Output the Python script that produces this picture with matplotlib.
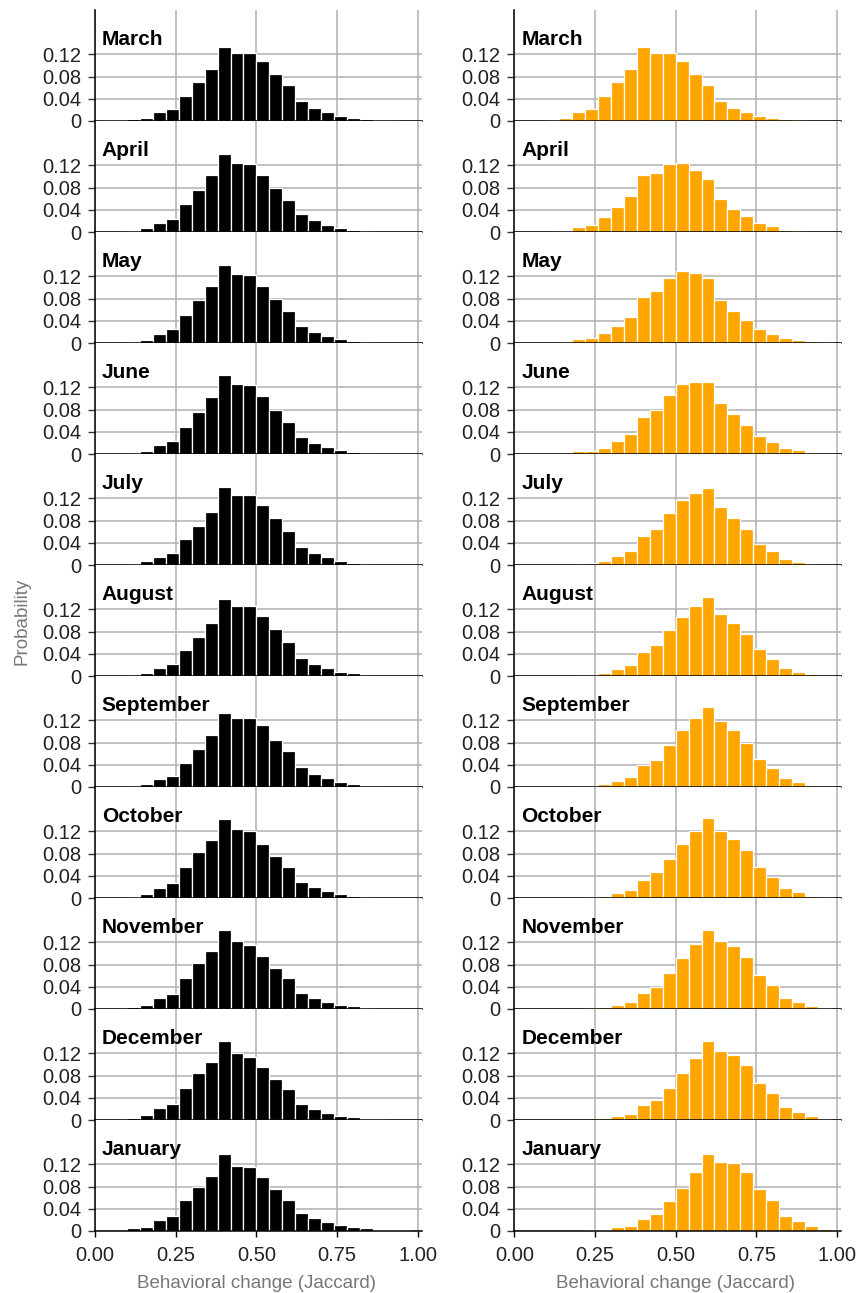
import numpy as np
import matplotlib
matplotlib.use("Agg")
import matplotlib.pyplot as plt

plt.rcParams['font.family'] = ['Liberation Sans', 'DejaVu Sans']

# bin centres (Jaccard), bin width 0.04
bins = [0.04, 0.08, 0.12, 0.16, 0.20, 0.24, 0.28, 0.32, 0.36, 0.40, 0.44, 0.48, 0.52,
        0.56, 0.60, 0.64, 0.68, 0.72, 0.76, 0.80, 0.84, 0.88, 0.92, 0.96, 1.00]

months = ["March", "April", "May", "June", "July", "August", "September",
          "October", "November", "December", "January"]

# left column (black)
mar_l = [0.001, 0.001, 0.003, 0.006, 0.0155, 0.022, 0.045, 0.070, 0.094, 0.133, 0.122, 0.122, 0.108,
         0.085, 0.065, 0.036, 0.024, 0.017, 0.0095, 0.006, 0.003, 0.001, 0.001, 0.0008, 0.0005]
apr_l = [0.0005, 0.0005, 0.0024, 0.0066, 0.017, 0.024, 0.051, 0.0765, 0.102, 0.140, 0.125, 0.122, 0.1035,
         0.080, 0.058, 0.033, 0.022, 0.013, 0.008, 0.004, 0.0024, 0.0006, 0.0005, 0.0004, 0.0003]
may_l = [0.0005, 0.0005, 0.0024, 0.006, 0.017, 0.026, 0.051, 0.078, 0.102, 0.140, 0.125, 0.122, 0.1035,
         0.080, 0.058, 0.031, 0.0205, 0.013, 0.008, 0.004, 0.0024, 0.0005, 0.0005, 0.0005, 0.0005]
jun_l = [0.0004, 0.0004, 0.0024, 0.006, 0.017, 0.024, 0.049, 0.0765, 0.102, 0.1415, 0.127, 0.125, 0.105,
         0.080, 0.058, 0.031, 0.0205, 0.013, 0.008, 0.004, 0.0024, 0.0005, 0.0005, 0.0005, 0.0005]
jul_l = [0.0004, 0.0004, 0.0024, 0.0066, 0.015, 0.022, 0.046, 0.071, 0.096, 0.140, 0.127, 0.127, 0.109,
         0.084, 0.062, 0.033, 0.022, 0.015, 0.008, 0.004, 0.0024, 0.0005, 0.0005, 0.0005, 0.0005]
aug_l = [0.0005, 0.0005, 0.0024, 0.006, 0.015, 0.022, 0.046, 0.071, 0.096, 0.138, 0.127, 0.127, 0.109,
         0.084, 0.062, 0.033, 0.022, 0.015, 0.008, 0.006, 0.0024, 0.0005, 0.0005, 0.0005, 0.0005]
sep_l = [0.0005, 0.0005, 0.0024, 0.006, 0.015, 0.0205, 0.044, 0.069, 0.093, 0.134, 0.125, 0.125, 0.111,
         0.0855, 0.0656, 0.0367, 0.024, 0.017, 0.0096, 0.006, 0.0024, 0.0024, 0.0005, 0.0005, 0.0005]
oct_l = [0.0005, 0.0005, 0.0024, 0.0078, 0.0187, 0.0277, 0.055, 0.082, 0.105, 0.143, 0.125, 0.120, 0.098,
         0.075, 0.055, 0.0295, 0.0205, 0.013, 0.008, 0.004, 0.0024, 0.0005, 0.0005, 0.0005, 0.0005]
nov_l = [0.0005, 0.0005, 0.0036, 0.0078, 0.0205, 0.0277, 0.0566, 0.0837, 0.105, 0.143, 0.123, 0.116, 0.096,
         0.073, 0.055, 0.0295, 0.0205, 0.013, 0.008, 0.006, 0.0024, 0.0005, 0.0005, 0.0005, 0.0005]
dec_l = [0.0005, 0.0005, 0.0042, 0.0096, 0.022, 0.0295, 0.058, 0.084, 0.105, 0.1415, 0.120, 0.114, 0.096,
         0.073, 0.055, 0.0295, 0.0205, 0.013, 0.008, 0.006, 0.0024, 0.0024, 0.0005, 0.0005, 0.0005]
jan_l = [0.0006, 0.0006, 0.0048, 0.0078, 0.0205, 0.0277, 0.055, 0.080, 0.100, 0.138, 0.118, 0.1146, 0.0965,
         0.075, 0.0567, 0.033, 0.024, 0.017, 0.0115, 0.0078, 0.0048, 0.0024, 0.0024, 0.0012, 0.0006]

# right column (orange)
mar_r = [0.0008, 0.0008, 0.0024, 0.006, 0.0155, 0.022, 0.045, 0.070, 0.094, 0.133, 0.122, 0.122, 0.108,
         0.085, 0.065, 0.036, 0.024, 0.017, 0.0095, 0.006, 0.003, 0.001, 0.0008, 0.0008, 0.0008]
apr_r = [0.0005, 0.0005, 0.0005, 0.0024, 0.0084, 0.012, 0.0265, 0.0445, 0.064, 0.1035, 0.107, 0.123, 0.125,
         0.1126, 0.096, 0.060, 0.042, 0.0295, 0.017, 0.0114, 0.0042, 0.0024, 0.0005, 0.0005, 0.0005]
may_r = [0.0005, 0.0005, 0.0005, 0.0024, 0.0066, 0.0084, 0.0175, 0.030, 0.046, 0.0825, 0.093, 0.117, 0.129,
         0.126, 0.117, 0.077, 0.057, 0.041, 0.025, 0.0157, 0.0084, 0.0048, 0.003, 0.0012, 0.0006]
jun_r = [0.0005, 0.0005, 0.0005, 0.0008, 0.0048, 0.0048, 0.0114, 0.023, 0.0355, 0.066, 0.079, 0.106, 0.126,
         0.1306, 0.129, 0.0915, 0.0716, 0.052, 0.032, 0.021, 0.010, 0.0066, 0.0024, 0.0006, 0.0005]
jul_r = [0.0004, 0.0004, 0.0004, 0.0004, 0.0024, 0.0042, 0.0078, 0.017, 0.026, 0.053, 0.0656, 0.093, 0.118,
         0.1306, 0.138, 0.105, 0.0855, 0.064, 0.0385, 0.026, 0.0114, 0.006, 0.0024, 0.0006, 0.0004]
aug_r = [0.0005, 0.0005, 0.0005, 0.0005, 0.0018, 0.0018, 0.006, 0.0132, 0.0205, 0.044, 0.055, 0.082, 0.107,
         0.127, 0.143, 0.1126, 0.096, 0.075, 0.048, 0.031, 0.015, 0.008, 0.0042, 0.0006, 0.0005]
sep_r = [0.0004, 0.0004, 0.0004, 0.0004, 0.0018, 0.0018, 0.006, 0.0114, 0.0187, 0.039, 0.049, 0.0765, 0.1035,
         0.125, 0.145, 0.119, 0.102, 0.080, 0.051, 0.035, 0.017, 0.0096, 0.0042, 0.0006, 0.0004]
oct_r = [0.0004, 0.0004, 0.0004, 0.0004, 0.0006, 0.0024, 0.0042, 0.0096, 0.015, 0.033, 0.046, 0.071, 0.098,
         0.1216, 0.145, 0.1216, 0.107, 0.087, 0.0566, 0.0385, 0.0187, 0.0114, 0.0042, 0.0024, 0.0006]
nov_r = [0.0004, 0.0004, 0.0004, 0.0004, 0.0004, 0.0024, 0.0042, 0.0078, 0.013, 0.0295, 0.040, 0.064, 0.091,
         0.118, 0.143, 0.123, 0.114, 0.0945, 0.062, 0.044, 0.0205, 0.013, 0.006, 0.0024, 0.0006]
dec_r = [0.0004, 0.0004, 0.0004, 0.0004, 0.0004, 0.0004, 0.0042, 0.0078, 0.0114, 0.0277, 0.0367, 0.058, 0.0855,
         0.1126, 0.143, 0.125, 0.118, 0.100, 0.067, 0.048, 0.024, 0.015, 0.0078, 0.0024, 0.0006]
jan_r = [0.0006, 0.0006, 0.0006, 0.0006, 0.0006, 0.0012, 0.0024, 0.0066, 0.0096, 0.0223, 0.031, 0.054, 0.077,
         0.1055, 0.138, 0.125, 0.122, 0.107, 0.075, 0.055, 0.0277, 0.0187, 0.0096, 0.0042, 0.0012]

left = [mar_l, apr_l, may_l, jun_l, jul_l, aug_l, sep_l, oct_l, nov_l, dec_l, jan_l]
right = [mar_r, apr_r, may_r, jun_r, jul_r, aug_r, sep_r, oct_r, nov_r, dec_r, jan_r]

W, H = 859, 1293
fig = plt.figure(figsize=(W / 100, H / 100), dpi=100)

grid_c = '#b0b0b0'
n = len(months)
panel_h = 111 / H
bottom0 = (H - 1231) / H
col_x = [95 / W, 514.3 / W]
col_w = 327 / W

for c, (data, color) in enumerate([(left, 'black'), (right, '#FFA500')]):
    for i, m in enumerate(months):
        ax = fig.add_axes([col_x[c], bottom0 + (n - 1 - i) * panel_h, col_w, panel_h])
        ax.bar(bins, data[i], width=0.04, color=color, edgecolor='white', linewidth=0.9, zorder=2)
        ax.set_xlim(0, 1.013)
        ax.set_ylim(0, 0.2)
        ax.set_yticks([0, 0.04, 0.08, 0.12])
        ax.set_yticklabels(['0', '0.04', '0.08', '0.12'])
        ax.set_xticks([0, 0.25, 0.5, 0.75, 1.0])
        ax.set_axisbelow(True)
        ax.grid(True, color=grid_c, linewidth=1.1)
        for s in ['top', 'right']:
            ax.spines[s].set_visible(False)
        ax.spines['left'].set_linewidth(1.1)
        ax.spines['bottom'].set_linewidth(1.1)
        ax.spines['bottom'].set_zorder(3)
        ax.tick_params(axis='y', length=5, width=1, color='#333333', pad=5,
                       labelsize=14.5, labelcolor='#222222')
        if i == n - 1:
            ax.set_xticklabels(['0.00', '0.25', '0.50', '0.75', '1.00'])
            ax.tick_params(axis='x', length=4.5, width=1, color='black', pad=6.5,
                           labelsize=14.5, labelcolor='#222222')
        else:
            ax.tick_params(axis='x', length=0, labelbottom=False)
        ax.text(0.021, 0.685, m, transform=ax.transAxes, fontsize=15,
                fontweight='bold', ha='left', va='baseline')
    cx = col_x[c] + (0.5 * 322.7 / W)
    fig.text(cx, 0.004, 'Behavioral change (Jaccard)', ha='center', va='baseline',
             fontsize=13.5, color='#777777')

fig.text(0.0256, 0.5197, 'Probability', rotation=90, ha='center', va='center',
         fontsize=13.5, color='#777777')

fig.savefig('out.png', dpi=100)
